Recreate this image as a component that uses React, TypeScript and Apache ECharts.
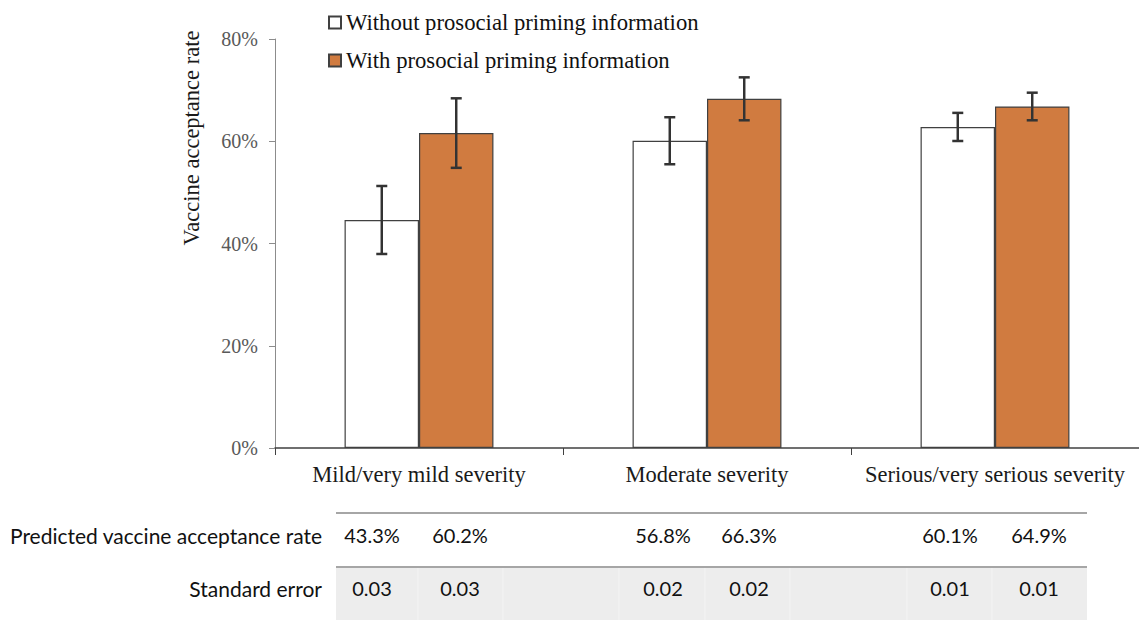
import React, { useEffect, useRef } from "react";
import * as echarts from "echarts";

const categories = ["Mild/very mild severity", "Moderate severity", "Serious/very serious severity"];
const seriesNames = ["Without prosocial priming information", "With prosocial priming information"];
const withoutValues = [44.6, 60.1, 62.8];
const withValues = [61.6, 68.3, 66.8];
const withoutErrors = [6.65, 4.6, 2.75];
const withErrors = [6.8, 4.2, 2.7];
const yTicks = [0, 20, 40, 60, 80];

const tableRowLabels = ["Predicted vaccine acceptance rate", "Standard error"];
const predictedWithout = ["43.3%", "56.8%", "60.1%"];
const predictedWith = ["60.2%", "66.3%", "64.9%"];
const seWithout = ["0.03", "0.02", "0.01"];
const seWith = ["0.03", "0.02", "0.01"];

const ORANGE = "#D07B40";
const GAP = 0.483;

export default function App() {
  const ref = useRef<HTMLDivElement>(null);
  useEffect(() => {
    if (!ref.current) return;
    const chart = echarts.init(ref.current, null, { renderer: "svg" });

    const errData: number[][] = [];
    categories.forEach((_, i) => {
      errData.push([i, 0, withoutValues[i] - withoutErrors[i], withoutValues[i] + withoutErrors[i]]);
      errData.push([i, 1, withValues[i] - withErrors[i], withValues[i] + withErrors[i]]);
    });

    // table geometry (layout only)
    const colCenters = [[372, 460], [663, 749], [950, 1039]];
    const sepXs = [418, 503, 619, 705, 790, 907, 992];
    const tableLeft = 336;
    const tableRight = 1087;
    const row1Y = 535;
    const row2Y = 588;
    const tableFont = "Lato, 'Open Sans', sans-serif";

    const graphics: any[] = [
      {
        type: "text",
        x: 191,
        y: 138,
        rotation: Math.PI / 2,
        style: {
          text: "Vaccine acceptance rate",
          fontFamily: "'Liberation Serif', serif",
          fontSize: 22.5,
          fill: "#1a1a1a",
          align: "center",
          verticalAlign: "middle",
        },
      },
      {
        type: "rect",
        shape: { x: tableLeft, y: 567, width: tableRight - tableLeft, height: 60 },
        style: { fill: "#ededed" },
        silent: true,
      },
      ...sepXs.map((x) => ({
        type: "line",
        shape: { x1: x, y1: 568, x2: x, y2: 620 },
        style: { stroke: "#f4f4f4", lineWidth: 1 },
        silent: true,
      })),
      {
        type: "line",
        shape: { x1: tableLeft, y1: 513, x2: tableRight, y2: 513 },
        style: { stroke: "#a6a6a6", lineWidth: 2 },
      },
      {
        type: "line",
        shape: { x1: tableLeft, y1: 567, x2: tableRight, y2: 567 },
        style: { stroke: "#a6a6a6", lineWidth: 2 },
      },
      {
        type: "text",
        x: 322,
        y: row1Y,
        style: { text: tableRowLabels[0], fontFamily: tableFont, fontSize: 21, fill: "#111", align: "right", verticalAlign: "middle" },
      },
      {
        type: "text",
        x: 322,
        y: row2Y,
        style: { text: tableRowLabels[1], fontFamily: tableFont, fontSize: 21, fill: "#111", align: "right", verticalAlign: "middle" },
      },
    ];
    categories.forEach((_, i) => {
      const cells = [
        [predictedWithout[i], colCenters[i][0], row1Y],
        [predictedWith[i], colCenters[i][1], row1Y],
        [seWithout[i], colCenters[i][0], row2Y],
        [seWith[i], colCenters[i][1], row2Y],
      ];
      cells.forEach(([t, x, y]) => {
        graphics.push({
          type: "text",
          x,
          y,
          style: { text: t, fontFamily: tableFont, fontSize: 20, fill: "#111", align: "center", verticalAlign: "middle" },
        });
      });
    });

    chart.setOption({
      animation: false,
      backgroundColor: "#ffffff",
      grid: { left: 275, top: 39, width: 870, height: 409, containLabel: false },
      legend: {
        data: seriesNames,
        orient: "vertical",
        left: 323,
        top: 6,
        icon: "rect",
        itemWidth: 12,
        itemHeight: 12,
        itemGap: 15,
        textStyle: {
          fontFamily: "'Liberation Serif', serif",
          fontSize: 22.7,
          lineHeight: 22,
          color: "#111",
        },
      },
      xAxis: {
        type: "category",
        data: categories,
        axisLine: { lineStyle: { color: "#404040", width: 1.5 } },
        axisTick: { show: true, length: 7, alignWithLabel: false, interval: 0, lineStyle: { color: "#404040" } },
        axisLabel: {
          fontFamily: "'Liberation Serif', serif",
          fontSize: 22.5,
          color: "#1a1a1a",
          margin: 15,
          interval: 0,
        },
      },
      yAxis: {
        type: "value",
        min: 0,
        max: 80,
        interval: 20,
        axisLine: { show: true, lineStyle: { color: "#8c8c8c", width: 1 } },
        axisTick: { show: true, length: 6, lineStyle: { color: "#8c8c8c" } },
        splitLine: { show: false },
        axisLabel: {
          formatter: (v: number) => (yTicks.includes(v) ? v + "%" : ""),
          fontFamily: "'Liberation Serif', serif",
          fontSize: 20,
          color: "#595959",
          margin: 17,
        },
      },
      series: [
        {
          name: seriesNames[0],
          type: "bar",
          data: withoutValues,
          barGap: "0%",
          barCategoryGap: GAP * 100 + "%",
          itemStyle: { color: "#ffffff", borderColor: "#404040", borderWidth: 1.2 },
        },
        {
          name: seriesNames[1],
          type: "bar",
          data: withValues,
          barGap: "0%",
          barCategoryGap: GAP * 100 + "%",
          itemStyle: { color: ORANGE, borderColor: "#404040", borderWidth: 1.2 },
        },
        {
          type: "custom",
          data: errData,
          encode: { x: 0, y: [2, 3] },
          z: 10,
          renderItem: (params: any, api: any) => {
            const cat = api.value(0);
            const s = api.value(1);
            const band = api.size([1, 0])[0];
            const bw = (band * (1 - GAP)) / 2;
            const off = (s === 0 ? -0.5 : 0.5) * bw;
            const lo = api.coord([cat, api.value(2)]);
            const hi = api.coord([cat, api.value(3)]);
            const x = lo[0] + off;
            const cap = 5.5;
            const st = { stroke: "#333333", lineWidth: 2.5 };
            return {
              type: "group",
              children: [
                { type: "line", shape: { x1: x, y1: hi[1], x2: x, y2: lo[1] }, style: st },
                { type: "line", shape: { x1: x - cap, y1: hi[1], x2: x + cap, y2: hi[1] }, style: st },
                { type: "line", shape: { x1: x - cap, y1: lo[1], x2: x + cap, y2: lo[1] }, style: st },
              ],
            };
          },
        },
      ],
      graphic: graphics,
    });
    return () => chart.dispose();
  }, []);
  return <div ref={ref} style={{ position: "fixed", left: 0, top: 0, width: 1139, height: 620 }} />;
}
